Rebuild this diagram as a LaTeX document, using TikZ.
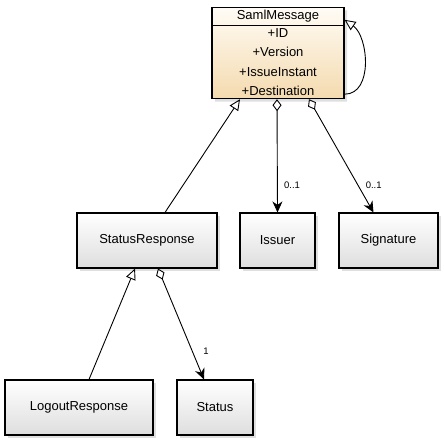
\documentclass[tikz,border=0pt]{standalone}
\usepackage{fontspec}
\setmainfont{Liberation Sans}
\usetikzlibrary{arrows.meta,shapes.multipart,shadows,positioning}
\definecolor{boxbot}{HTML}{DEDEDE}
\definecolor{wheattop}{HTML}{FFFCF6}
\definecolor{wheatbot}{HTML}{F4DAAE}
\tikzset
    {
        cls/.style = {rectangle, draw=black, line width=1.1pt, top color=white, bottom color=boxbot,
                      drop shadow={shadow xshift=3pt, shadow yshift=-3pt, opacity=0.25},
                      minimum height=55pt, font=\fontsize{13}{15}\selectfont},
        mcls/.style = {rectangle split, rectangle split parts=2, draw=black, line width=1.1pt,
                       top color=wheattop, bottom color=wheatbot, align=center,
                       drop shadow={shadow xshift=3pt, shadow yshift=-3pt, opacity=0.25},
                       minimum width=132pt, minimum height=96pt, inner ysep=2.5pt,
                       font=\fontsize{13}{19.3}\selectfont},
        gen/.style = {-{Triangle[open, length=11pt, width=10pt]}, line width=0.9pt},
        agg/.style = {{Diamond[open, length=12pt, width=9pt]}-{Stealth[length=11pt, width=10pt, inset=3.5pt]}, line width=0.9pt},
        mult/.style = {font=\fontsize{9.5}{11}\selectfont}
    }
\begin{document}
\begin{tikzpicture}[x=1pt, y=1pt]
    \useasboundingbox (0,0) rectangle (444,440);
    \node [mcls] (sm) at (278,387) {SamlMessage
        \nodepart{two}+ID\\+Version\\+IssueInstant\\+Destination};
    \node [cls, minimum width=140pt] (sr) at (147,199.5) {StatusResponse};
    \node [cls, minimum width=75pt] (iss) at (277.5,199.5) {Issuer};
    \node [cls, minimum width=99pt] (sig) at (388.5,199.5) {Signature};
    \node [cls, minimum width=148pt] (lr) at (79,32.5) {LogoutResponse};
    \node [cls, minimum width=76pt] (st) at (215,32.5) {Status};

    \draw [gen] ([xshift=18pt]sr.north) -- ([xshift=-38pt]sm.south);
    \draw [gen] ([xshift=10pt]lr.north) -- ([xshift=-12pt]sr.south);
    \draw [gen] ([yshift=5pt]sm.south east) to[out=0, in=-35, looseness=1] ([yshift=-13pt]sm.north east);

    \draw [agg] ([xshift=-1pt]sm.south) -- (iss.north)
        node [mult, pos=0.76, right=3pt] (issm) {0..1};
    \draw [agg] ([xshift=31pt]sm.south) -- ([xshift=-15pt]sig.north)
        node [mult, pos=0.76, right=4pt] (sigm) {0..1};
    \draw [agg] ([xshift=11pt]sr.south) -- ([xshift=-11pt]st.north)
        node [mult, pos=0.75, right=7pt] (stm) {1};
\end{tikzpicture}
\end{document}
